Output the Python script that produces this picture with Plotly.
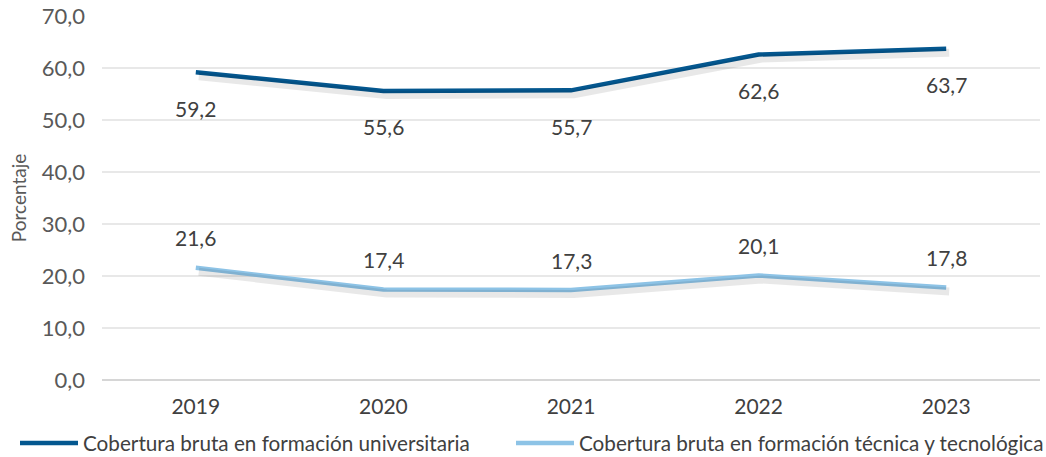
import plotly.graph_objects as go

years = ["2019", "2020", "2021", "2022", "2023"]
universitaria = [59.2, 55.6, 55.7, 62.6, 63.7]
tecnica = [21.6, 17.4, 17.3, 20.1, 17.8]
y_ticks = [0, 10, 20, 30, 40, 50, 60, 70]
name_u = "Cobertura bruta en formación universitaria"
name_t = "Cobertura bruta en formación técnica y tecnológica"

DARK = "#04578F"
LIGHT = "#8DC3E6"
FONT = "Lato"

W, H = 1046, 457
L, R, T, B = 102, 6, 16, 77
pw, ph = W - L - R, H - T - B
sx = 3 * 5 / pw      # 3 px right in category units
sy = 4 * 70 / ph     # 4 px down in value units

fig = go.Figure()

# shadow traces on offset axes
for ys in (universitaria, tecnica):
    fig.add_trace(go.Scatter(x=years, y=ys, mode="lines", xaxis="x2", yaxis="y2",
                             line=dict(color="rgba(0,0,0,0.09)", width=8),
                             showlegend=False, hoverinfo="skip"))

fig.add_trace(go.Scatter(x=years, y=universitaria, mode="lines", name=name_u,
                         line=dict(color=DARK, width=4.5), legend="legend"))
fig.add_trace(go.Scatter(x=years, y=tecnica, mode="lines", name=name_t,
                         line=dict(color=LIGHT, width=4.5), legend="legend2"))

for i, v in enumerate(universitaria):
    fig.add_annotation(x=i, y=v, xref="x", yref="y", text=f"{v:.1f}".replace(".", ","),
                       showarrow=False, yshift=-36,
                       font=dict(family=FONT, size=21, color="#404040"))
for i, v in enumerate(tecnica):
    fig.add_annotation(x=i, y=v, xref="x", yref="y", text=f"{v:.1f}".replace(".", ","),
                       showarrow=False, yshift=30,
                       font=dict(family=FONT, size=21, color="#404040"))

leg_y = -(443 - 380) / ph
leg_common = dict(orientation="h", xanchor="left", xref="paper", y=leg_y, yanchor="middle",
                  font=dict(size=20.7, color="#404040"), itemwidth=58,
                  bgcolor="rgba(0,0,0,0)")

fig.update_layout(
    width=W, height=H,
    margin=dict(l=L, r=R, t=T, b=B, autoexpand=False),
    paper_bgcolor="white", plot_bgcolor="white",
    separators=",.",
    font=dict(family=FONT, size=20, color="#595959"),
    xaxis=dict(type="category", showgrid=False, zeroline=False, automargin=False,
               showline=False, ticks="", tickfont=dict(size=21, color="#404040"),
               ticklabelstandoff=12, range=[-0.5, 4.5]),
    yaxis=dict(range=[0, 70], tickmode="array", tickvals=y_ticks, tickformat=".1f",
               showgrid=True, automargin=False,
               gridcolor="#E8E8E8", gridwidth=1.5, zeroline=True, zerolinecolor="#D6D6D6",
               zerolinewidth=1.5, showline=False, ticks="", ticklabelstandoff=16,
               tickfont=dict(size=22, color="#595959"),
               title=dict(text="Porcentaje", font=dict(size=19, color="#595959"), standoff=10)),
    xaxis2=dict(type="category", range=[-0.5 - sx, 4.5 - sx], visible=False,
                overlaying="x", anchor="y2"),
    yaxis2=dict(range=[sy, 70 + sy], visible=False, overlaying="y", anchor="x2"),
    legend=dict(x=(15 - L) / pw, **leg_common),
    legend2=dict(x=(511 - L) / pw, **leg_common),
    showlegend=True,
)

# remove the default 8px page margin so the figure sits at the window's corner
fig.write_html("out.html", config={"displayModeBar": False},
               post_script="document.body.style.margin='0';document.body.style.overflow='hidden';")
